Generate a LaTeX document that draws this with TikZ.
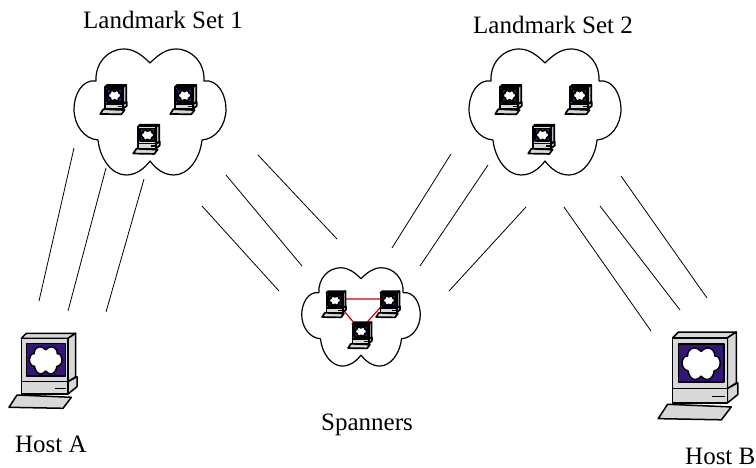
\documentclass[tikz,border=0pt]{standalone}
\usepackage{fontspec}
\setmainfont{Liberation Serif}
\definecolor{screenpurple}{RGB}{52,20,120}
\definecolor{casegray}{RGB}{216,216,216}
\newcommand{\cloudline}{
  (0,-44) .. controls (-8,-52) and (-16,-58) .. (-26,-58)
  .. controls (-42,-58) and (-55,-44) .. (-54,-26)
  .. controls (-68,-28) and (-76,-12) .. (-76,2)
  .. controls (-76,18) and (-66,32) .. (-52,33)
  .. controls (-50,52) and (-38,68) .. (-24,68)
  .. controls (-14,68) and (-6,62) .. (0,54)
  .. controls (6,62) and (14,68) .. (24,68)
  .. controls (38,68) and (50,52) .. (52,33)
  .. controls (66,32) and (76,18) .. (76,2)
  .. controls (76,-12) and (68,-28) .. (54,-26)
  .. controls (55,-44) and (42,-58) .. (26,-58)
  .. controls (16,-58) and (8,-52) .. (0,-44) -- cycle}
\tikzset{
  pics/cloudshape/.style={code={
    \draw[fill=white,line join=round] \cloudline;
  }},
  pics/computer/.style={code={
    \begin{scope}[fill=casegray,line join=round]
    \draw[fill] (-21.7,-31.7) -- (-16.7,-36.7) -- (32.7,-36.7) -- (25,-31.7) -- cycle;
    \draw[fill] (25,-31.7) -- (32.7,-36.7) -- (32.7,6.7) -- (25,11.7) -- cycle;
    \draw[fill] (25,11.7) -- (34,6.7) -- (34,16.7) -- (25,24) -- cycle;
    \draw[fill] (-21.7,11.7) rectangle (25,24);
    \draw[fill] (-21.7,-31.7) rectangle (25,11.7);
    \draw[fill=screenpurple] (-16.7,-26.7) rectangle (22.4,6);
    \begin{scope}[shift={(2.7,-10.7)},scale=.215]
      \draw[fill=white] \cloudline;
    \end{scope}
    \draw (11.7,18.3) -- (22.7,18.3);
    \draw[fill] (-34,37.3) -- (-26,25) -- (28.4,27.3) -- (20,38.3) -- cycle;
    \end{scope}
  }}
}

\begin{document}
\begin{tikzpicture}[x=1pt,y=-1pt]

  \tikzstyle{link}=[black,line width=.8pt]
  \tikzstyle{red link}=[red!80!black,line width=1.2pt]
  \tikzstyle{caption}=[font=\fontsize{25}{28}\selectfont,inner sep=0pt,anchor=base west]
  \tikzstyle{mini}=[line width=1.7pt]
  \tikzstyle{host}=[line width=1.5pt]

  \useasboundingbox (0,0) rectangle (756,468);

  % landmark clouds
  \foreach \name/\x in {setone/150,settwo/545} {
    \coordinate (\name) at (\x,107);
    \pic[line width=1.2pt] at (\name) {cloudshape};
    \pic[mini,scale=.39] at ([shift={(-36.5,-7.6)}]\name) {computer};
    \pic[mini,scale=.39] at ([shift={(33.5,-7.6)}]\name) {computer};
    \pic[mini,scale=.39] at ([shift={(-3.5,32)}]\name) {computer};
  }

  % spanners
  \coordinate (span) at (361,313);
  \pic[line width=1.2pt,scale=.78] at (span) {cloudshape};
  \coordinate (sp1) at (334,299);
  \coordinate (sp2) at (388,299);
  \coordinate (sp3) at (360,330);
  \draw[red link] (sp1) -- (sp2) -- (sp3) -- cycle;
  \pic[mini,scale=.35] at ([yshift=-5pt]sp1) {computer};
  \pic[mini,scale=.35] at ([yshift=-5pt]sp2) {computer};
  \pic[mini,scale=.35] at ([yshift=-5pt]sp3) {computer};

  % hosts
  \pic[host] at (43,370) {computer};
  \pic[host,scale=1.17] at (698,375) {computer};

  % lines
  \foreach \i/\a/\b/\c/\d in {
      1/74/148/39/301, 2/106/168/68/311, 3/144/179/106/312,
      4/258/155/337/239, 5/226/175/302/266, 6/202/206/279/291,
      7/451/154/392/248, 8/488/165/420/266, 9/526/207/449/291,
      10/564/207/651/331, 11/600/206/680/310, 12/621/176/707/298} {
    \coordinate (from\i) at (\a,\b);
    \coordinate (to\i) at (\c,\d);
    \draw[link] (from\i) -- (to\i);
  }

  \node[caption] (lm1) at (83,29) {Landmark Set 1};
  \node[caption] (lm2) at (473,34) {Landmark Set 2};
  \node[caption] (hosta) at (15,452) {Host A};
  \node[caption] (spanners) at (321,430) {Spanners};
  \node[caption] (hostb) at (685,464) {Host B};

\end{tikzpicture}
\end{document}
